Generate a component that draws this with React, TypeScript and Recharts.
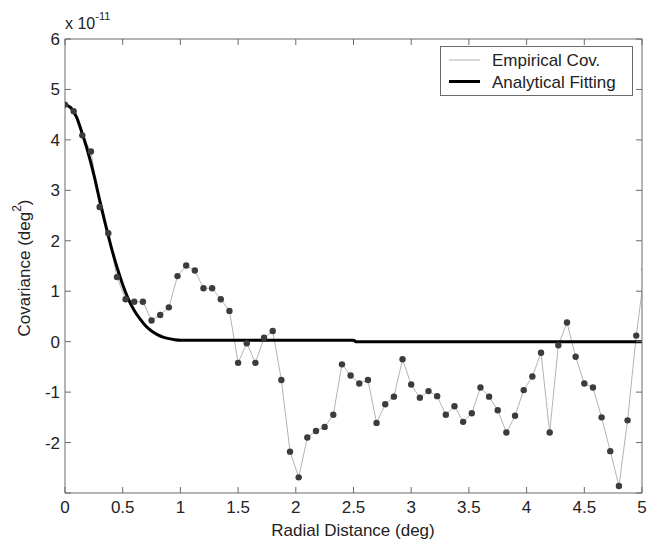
import React from 'react';
import { LineChart, Line, XAxis, YAxis, Legend } from 'recharts';

// Empirical covariance (x 1e-11 deg^2), one sample every 0.075 deg
const LAG_STEP = 0.075;
const empiricalCov = [
  4.7, 4.57, 4.09, 3.77, 2.67, 2.15, 1.28, 0.84, 0.79, 0.79,
  0.42, 0.53, 0.68, 1.3, 1.51, 1.41, 1.06, 1.06, 0.84, 0.61,
  -0.42, -0.03, -0.42, 0.08, 0.21, -0.76, -2.18, -2.69, -1.9, -1.77,
  -1.69, -1.45, -0.45, -0.67, -0.83, -0.76, -1.61, -1.24, -1.09, -0.35,
  -0.85, -1.11, -0.98, -1.08, -1.45, -1.28, -1.59, -1.42, -0.91, -1.09,
  -1.36, -1.8, -1.47, -0.96, -0.69, -0.22, -1.8, -0.07, 0.38, -0.3,
  -0.83, -0.91, -1.5, -2.17, -2.86, -1.56, 0.12, 1.43,
];

// Analytical fitting curve
const fitDistance = [
  0, 0.05, 0.1, 0.15, 0.2, 0.25, 0.3, 0.35, 0.4, 0.45, 0.5, 0.55,
  0.6, 0.65, 0.7, 0.75, 0.8, 0.85, 0.9, 0.95, 1.0, 2.5, 2.52, 5,
];
const fitCov = [
  4.7, 4.64, 4.45, 4.12, 3.75, 3.31, 2.81, 2.33, 1.88, 1.48, 1.13, 0.84,
  0.62, 0.45, 0.31, 0.21, 0.14, 0.09, 0.06, 0.04, 0.03, 0.03, 0.0, 0.0,
];

const xTicks = [0, 0.5, 1, 1.5, 2, 2.5, 3, 3.5, 4, 4.5, 5];
const yTicks = [-3, -2, -1, 0, 1, 2, 3, 4, 5, 6];

const empiricalData = empiricalCov.map((v, i) => ({ x: +(i * LAG_STEP).toFixed(3), y: v }));
const fitData = fitDistance.map((d, i) => ({ x: d, y: fitCov[i] }));

const FONT = '"Liberation Sans", Arial, Helvetica, sans-serif';
const FRAME = '#6a6a6a';
const TEXT = '#222';

// ticks point inward, MATLAB style
const BottomTick = ({ x, y, payload }: any) => (
  <g>
    <line x1={x} x2={x} y1={y} y2={y - 6} stroke={FRAME} />
    <text x={x} y={y + 20} textAnchor="middle" fontSize={17} fontFamily={FONT} fill={TEXT}>
      {payload.value}
    </text>
  </g>
);

const TopTick = ({ x, y }: any) => <line x1={x} x2={x} y1={y} y2={y + 6} stroke={FRAME} />;

const LeftTick = ({ x, y, payload }: any) => (
  <g>
    <line x1={x + 5} x2={x + 11} y1={y} y2={y} stroke={FRAME} />
    {payload.value !== -3 && (
      <text x={x} y={y} dy={6} textAnchor="end" fontSize={17} fontFamily={FONT} fill={TEXT}>
        {payload.value}
      </text>
    )}
  </g>
);

const RightTick = ({ x, y }: any) => <line x1={x} x2={x - 6} y1={y} y2={y} stroke={FRAME} />;

const YTitle = () => (
  <g fontFamily={FONT} fill={TEXT}>
    <text
      x={16}
      y={260}
      transform="rotate(-90 16 260)"
      textAnchor="middle"
      dominantBaseline="central"
      fontSize={17}
    >
      Covariance (deg
      <tspan dy={-7} fontSize={12}>2</tspan>
      <tspan dy={7}>)</tspan>
    </text>
    <text x={57} y={21} fontSize={16}>
      x 10
      <tspan dy={-9} fontSize={11}>-11</tspan>
    </text>
  </g>
);

const XTitle = () => (
  <text x={345} y={528} textAnchor="middle" fontSize={17} fontFamily={FONT} fill={TEXT}>
    Radial Distance (deg)
  </text>
);

const legendStyles: Record<string, { color: string; width: number }> = {
  'Empirical Cov.': { color: '#b4b4b4', width: 1 },
  'Analytical Fitting': { color: '#000', width: 3 },
};

const LegendBox = () => {
  const names = Object.keys(legendStyles);
  return (
    <svg width={193} height={50} style={{ display: 'block' }}>
      <rect x={0.5} y={0.5} width={192} height={49} fill="#fff" stroke={FRAME} />
      {names.map((n, i) => (
        <g key={n}>
          <line
            x1={9}
            x2={40}
            y1={14 + i * 21.5}
            y2={14 + i * 21.5}
            stroke={legendStyles[n].color}
            strokeWidth={legendStyles[n].width}
          />
          <text x={52} y={14 + i * 21.5 + 6} fontSize={17} fontFamily={FONT} fill={TEXT}>
            {n}
          </text>
        </g>
      ))}
    </svg>
  );
};

export default function App() {
  return (
    <div style={{ width: 650, height: 534 }}>
      <LineChart width={650} height={534} margin={{ top: 30, right: 15, bottom: 0, left: 0 }}>
        <XAxis
          dataKey="x"
          type="number"
          domain={[0, 5]}
          allowDataOverflow
          ticks={xTicks}
          interval={0}
          height={49}
          tickSize={0}
          tickMargin={0}
          tick={<BottomTick />}
          axisLine={{ stroke: FRAME }}
          tickLine={false}
          label={<XTitle />}
        />
        <XAxis
          xAxisId="top"
          orientation="top"
          dataKey="x"
          type="number"
          domain={[0, 5]}
          allowDataOverflow
          ticks={xTicks}
          interval={0}
          height={1}
          tickSize={0}
          tickMargin={0}
          tick={<TopTick />}
          axisLine={{ stroke: FRAME }}
          tickLine={false}
        />
        <YAxis
          type="number"
          domain={[-3, 6]}
          allowDataOverflow
          ticks={yTicks}
          interval={0}
          width={57}
          tickSize={0}
          tickMargin={5}
          tick={<LeftTick />}
          axisLine={{ stroke: FRAME }}
          tickLine={false}
          label={<YTitle />}
        />
        <YAxis
          yAxisId="right"
          orientation="right"
          type="number"
          domain={[-3, 6]}
          allowDataOverflow
          ticks={yTicks}
          interval={0}
          width={1}
          tickSize={0}
          tickMargin={0}
          tick={<RightTick />}
          axisLine={{ stroke: FRAME }}
          tickLine={false}
        />
        <Legend
          layout="horizontal"
          verticalAlign="middle"
          align="center"
          content={<LegendBox />}
          wrapperStyle={{ position: 'absolute', top: 38, left: 432, width: 193, height: 50 }}
        />
        <Line
          name="Empirical Cov."
          data={empiricalData}
          dataKey="y"
          type="linear"
          stroke="#b4b4b4"
          strokeWidth={1}
          dot={{ r: 3.2, fill: '#3c3c3c', stroke: 'none' }}
          activeDot={false}
          isAnimationActive={false}
        />
        <Line
          name="Analytical Fitting"
          data={fitData}
          dataKey="y"
          type="monotone"
          stroke="#000"
          strokeWidth={3}
          dot={false}
          activeDot={false}
          isAnimationActive={false}
        />
      </LineChart>
    </div>
  );
}
